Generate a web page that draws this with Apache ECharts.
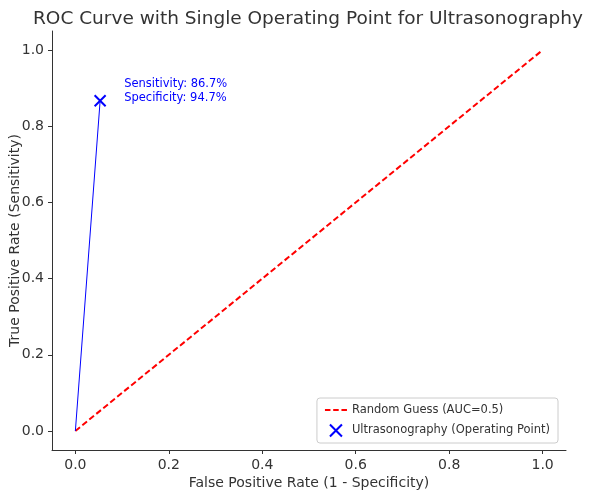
<!DOCTYPE html>
<html>
<head>
<meta charset="utf-8">
<script src="https://cdn.jsdelivr.net/npm/echarts@6/dist/echarts.min.js"></script>
<style>
  html, body { margin: 0; padding: 0; background: #fff; }
  #chart { width: 591px; height: 499px; }
</style>
</head>
<body>
<div id="chart"></div>
<script>
// operating point of ultrasonography
const sensitivity = 0.867
const specificity = 0.947
const opFpr = [0, 1 - specificity]
const opTpr = [0, sensitivity]
// chance diagonal
const guessFpr = [0, 1]
const guessTpr = [0, 1]
const ticks = [0, 0.2, 0.4, 0.6, 0.8, 1.0]

const chart = echarts.init(document.getElementById('chart'))
const font = 'DejaVu Sans'
const xMark = 'path://M0,0L10,10M10,0L0,10'

const axisCommon = {
  type: 'value',
  min: -0.05,
  max: 1.05,
  axisLine: { show: true, onZero: false, lineStyle: { color: '#333', width: 1 } },
  axisTick: { show: true, length: 4, customValues: ticks, lineStyle: { color: '#333' } },
  splitLine: { show: false },
  nameLocation: 'middle',
  nameMoveOverlap: false,
  nameTextStyle: { fontFamily: font, fontSize: 14, color: '#333' },
  axisLabel: {
    fontFamily: font, fontSize: 14, color: '#333',
    customValues: ticks,
    formatter: v => v.toFixed(1)
  }
}

const option = {
  animation: false,
  title: {
    text: 'ROC Curve with Single Operating Point for Ultrasonography',
    left: 303,
    textAlign: 'center',
    top: 5,
    textStyle: { fontFamily: font, fontSize: 18.5, fontWeight: 'normal', color: '#333' }
  },
  grid: { left: 52, right: 25, top: 31, bottom: 49, containLabel: false, outerBoundsMode: 'none' },
  xAxis: Object.assign({}, axisCommon, {
    name: 'False Positive Rate (1 - Specificity)',
    nameGap: 26
  }),
  yAxis: Object.assign({}, axisCommon, {
    name: 'True Positive Rate (Sensitivity)',
    nameGap: 30
  }),
  legend: {
    orient: 'vertical',
    right: 33,
    bottom: 56,
    padding: [6, 8, 4, 8],
    itemGap: 6,
    itemWidth: 22,
    itemHeight: 12,
    borderColor: '#ccc',
    borderWidth: 1,
    borderRadius: 3,
    backgroundColor: 'rgba(255,255,255,0.8)',
    textStyle: { fontFamily: font, fontSize: 11.5, color: '#333' },
    data: [
      { name: 'Random Guess (AUC=0.5)', icon: 'path://M0,4h6v2h-6zM9,4h6v2h-6zM18,4h6v2h-6z', itemStyle: { color: 'red' } },
      { name: 'Ultrasonography (Operating Point)', icon: xMark, itemStyle: { color: 'none', borderColor: 'blue', borderWidth: 2 } }
    ]
  },
  series: [
    {
      name: 'Random Guess (AUC=0.5)',
      type: 'line',
      data: guessFpr.map((x, i) => [x, guessTpr[i]]),
      showSymbol: false,
      lineStyle: { color: 'red', width: 2, type: [6, 3] },
      itemStyle: { color: 'red' }
    },
    {
      name: 'roc',
      type: 'line',
      data: opFpr.map((x, i) => [x, opTpr[i]]),
      showSymbol: false,
      lineStyle: { color: 'blue', width: 1 },
      itemStyle: { color: 'blue' }
    },
    {
      name: 'Ultrasonography (Operating Point)',
      type: 'scatter',
      data: [[opFpr[1], opTpr[1]]],
      symbol: xMark,
      symbolSize: 11,
      itemStyle: { color: 'none', borderColor: 'blue', borderWidth: 2, opacity: 1 },
      label: {
        show: true,
        position: [32, -16],
        align: 'left',
        fontFamily: font,
        fontSize: 11.5,
        lineHeight: 14,
        color: 'blue',
        formatter: () => 'Sensitivity: ' + (sensitivity * 100).toFixed(1) + '%\nSpecificity: ' + (specificity * 100).toFixed(1) + '%'
      },
      z: 5
    }
  ]
}
chart.setOption(option)
</script>
</body>
</html>
